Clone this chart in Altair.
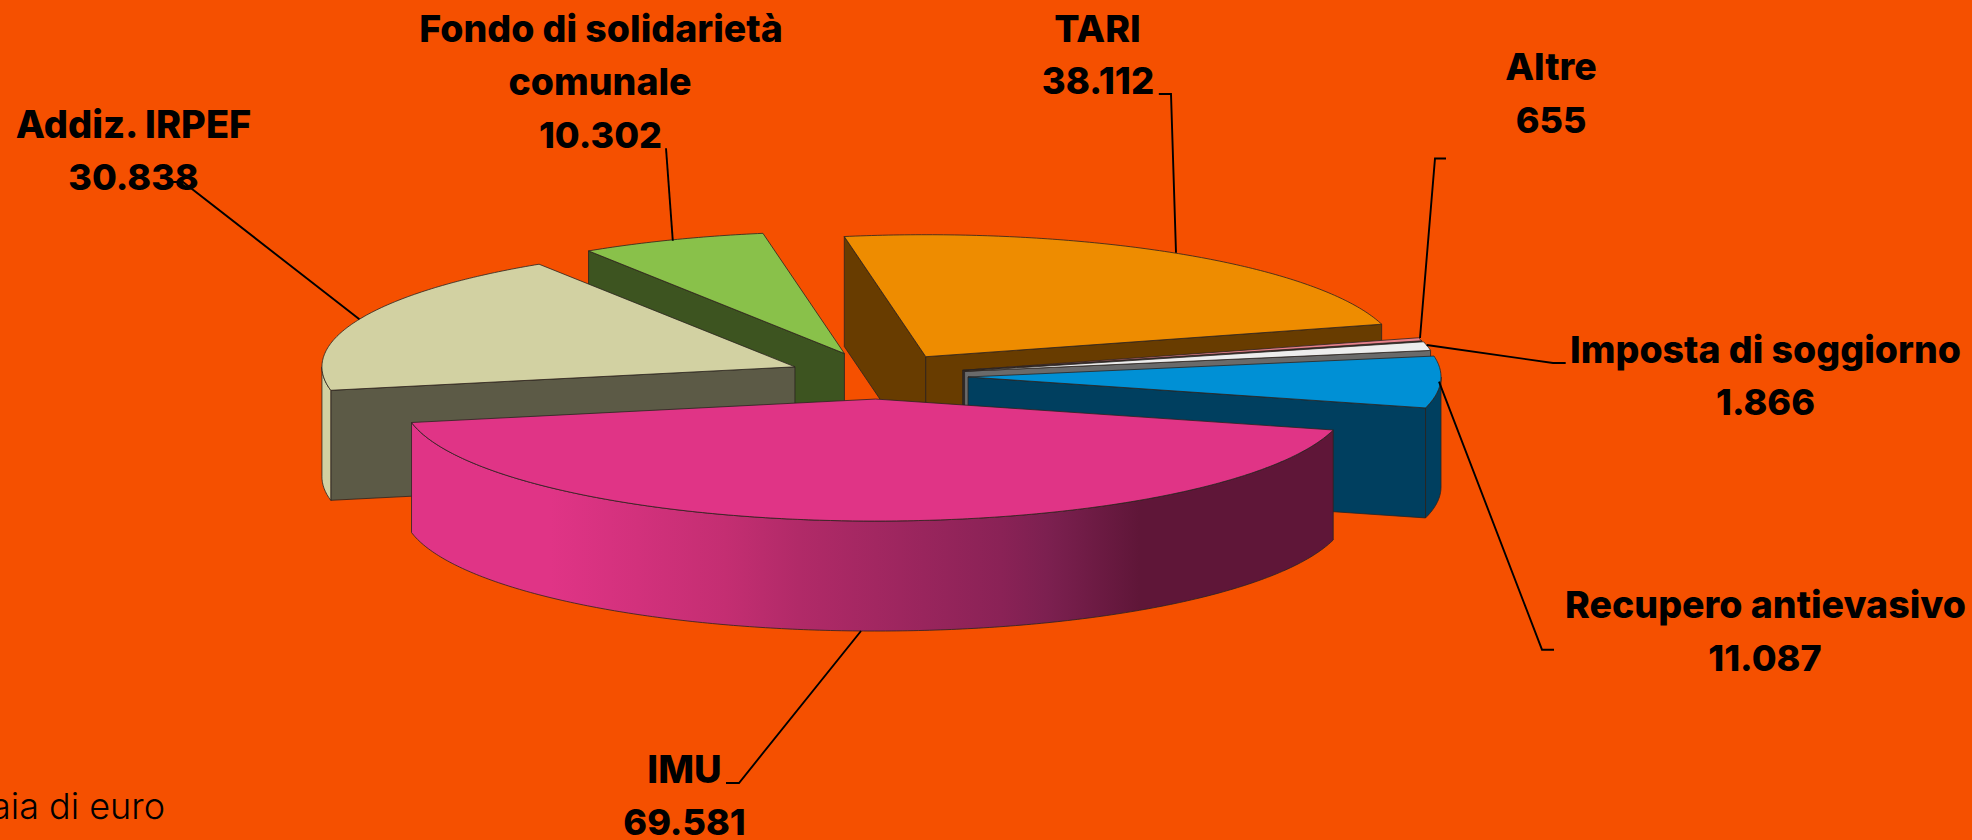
import math
import altair as alt

# ---- values (thousands of euro) ----
labels = ["IMU", "Addiz. IRPEF", "Fondo di solidarietà comunale", "TARI", "Altre", "Imposta di soggiorno", "Recupero antievasivo"]
values = [69581, 30838, 10302, 38112, 655, 1866, 11087]
value_text = ["69.581", "30.838", "10.302", "38.112", "655", "1.866", "11.087"]
pull = [0.189, 0.192, 0.198, 0.187, 0.184, 0.186, 0.1894]
top_colors = ["#E03486", "#D2D1A2", "#89C14A", "#EE8C00", "#E8818C", "#EDEDED", "#0090D5"]
side_colors = ["#E03486", "#5C5A46", "#3D5420", "#683C00", "#2E2A28", "#6A6A6A", "#003F5F"]
rim_colors = ["#E03486", "#D2D1A2", "#3D5420", "#683C00", "#2E2A28", "#6A6A6A", "#003F5F"]
draw_order = [2, 3, 1, 4, 5, 6]  # back to front, IMU (0) is last

label_lines = ["Fondo di solidarietà", "comunale", "10.302", "Addiz. IRPEF", "30.838", "TARI", "38.112",
               "Altre", "655", "Imposta di soggiorno", "1.866", "Recupero antievasivo", "11.087", "IMU", "69.581"]
label_x = [601, 600, 600.5, 133.5, 133.5, 1097.5, 1098, 1551, 1551, 1765.5, 1765.5, 1765.5, 1765, 684.5, 684.5]
label_y = [42.3, 95, 147.7, 138, 190, 41.7, 94, 80, 132.5, 362.7, 415, 617.7, 670.7, 782.7, 835]
label_size = [37.5, 37.5, 36, 38, 36, 37.5, 36.5, 37.5, 36, 37.5, 36, 37.5, 36, 38, 36]

leaders = [
    [[172, 182], [183, 182], [359.4, 319.3]],
    [[666, 148.3], [672.8, 240.7]],
    [[1158.8, 94], [1171, 94], [1176, 252.7]],
    [[1446, 158.5], [1435, 158.5], [1420, 338]],
    [[1565.7, 363], [1553, 363], [1426.7, 345]],
    [[1554, 649.7], [1542, 649.7], [1439, 381.7]],
    [[726, 783], [739, 783], [861, 631]],
]

# ---- page / pie geometry ----
W, H = 1972, 840
CX, CY = 878.5, 376
RX, RY = 473, 122
DEPTH = 110
START = 14.7  # degrees, screen-clockwise, where IMU begins
BG = "#F55000"

total = sum(values)


def pt(c, t, dy=0.0):
    a = math.radians(t)
    return [c[0] + RX * math.cos(a), c[1] + RY * math.sin(a) + dy]


def arc(c, t0, t1, dy=0.0):
    n = max(2, int(abs(t1 - t0) * 1.5))
    return [pt(c, t0 + (t1 - t0) * k / n, dy) for k in range(n + 1)]


def poly(coords, color):
    return {"type": "Feature", "properties": {"c": color},
            "geometry": {"type": "Polygon", "coordinates": [coords + [coords[0]]]}}


slices = []
t = START
for i, v in enumerate(values):
    sweep = v / total * 360
    mid = t + sweep / 2
    a = math.radians(mid)
    c = [CX + pull[i] * RX * math.cos(a), CY + pull[i] * RY * math.sin(a)]
    slices.append((i, c, t, t + sweep))
    t += sweep


def rim_range(t0, t1):
    # the part of an outer edge that faces the viewer: sin(t) > 0
    for base in (0, 360):
        a, b = max(t0, base), min(t1, base + 180)
        if a < b:
            return a, b
    return None


def faces(i):
    _, c, t0, t1 = slices[i]
    out = []
    if math.cos(math.radians(t0)) < 0:
        p = pt(c, t0)
        out.append(poly([c, p, [p[0], p[1] + DEPTH], [c[0], c[1] + DEPTH]], side_colors[i]))
    if math.cos(math.radians(t1)) > 0:
        p = pt(c, t1)
        out.append(poly([c, p, [p[0], p[1] + DEPTH], [c[0], c[1] + DEPTH]], side_colors[i]))
    r = rim_range(t0, t1)
    if r:
        upper = arc(c, r[0], r[1])
        lower = arc(c, r[1], r[0], DEPTH)
        out.append(poly(upper + lower, rim_colors[i]))
    out.append(poly([c] + arc(c, t0, t1), top_colors[i]))
    return out


back = []
for i in draw_order:
    back += faces(i)
imu_faces = faces(0)
imu_rim, imu_top = imu_faces[-2], imu_faces[-1]

proj = alt.Projection(type="identity", scale=1, translate=[0, 0])
STROKE = "#2B2320"

back_layer = alt.Chart(alt.Data(values=back)).mark_geoshape(
    stroke=STROKE, strokeWidth=0.8
).encode(fill=alt.Fill("properties.c:N", scale=None)).project(**proj.to_dict())

gradient = alt.Gradient(
    gradient="linear", x1=0, x2=1, y1=0, y2=0,
    stops=[
        alt.GradientStop(offset=0.0, color="#E03486"),
        alt.GradientStop(offset=0.15, color="#E03486"),
        alt.GradientStop(offset=0.34, color="#C42E72"),
        alt.GradientStop(offset=0.42, color="#B12A68"),
        alt.GradientStop(offset=0.64, color="#8A2256"),
        alt.GradientStop(offset=0.69, color="#7C2050"),
        alt.GradientStop(offset=0.79, color="#5F1638"),
        alt.GradientStop(offset=1.0, color="#5F1638"),
    ],
)
rim_layer = alt.Chart(alt.Data(values=[imu_rim])).mark_geoshape(
    stroke=STROKE, strokeWidth=0.8, fill=gradient
).project(**proj.to_dict())
top_layer = alt.Chart(alt.Data(values=[imu_top])).mark_geoshape(
    stroke=STROKE, strokeWidth=0.8, fill=top_colors[0]
).project(**proj.to_dict())

leader_features = [{"type": "Feature", "properties": {},
                    "geometry": {"type": "LineString", "coordinates": l}} for l in leaders]
leader_layer = alt.Chart(alt.Data(values=leader_features)).mark_geoshape(
    filled=False, stroke="#000000", strokeWidth=1.9
).project(**proj.to_dict())

text_rows = [{"t": s, "x": x, "y": y, "s": z} for s, x, y, z in zip(label_lines, label_x, label_y, label_size)]
text_layer = alt.Chart(alt.Data(values=text_rows)).mark_text(
    font="Inter", fontWeight=800, color="#000000", align="center", baseline="alphabetic"
).encode(longitude="x:Q", latitude="y:Q", text="t:N",
         size=alt.Size("s:Q", scale=None)).project(**proj.to_dict())

note_layer = alt.Chart(alt.Data(values=[{"t": "Migliaia di euro", "x": 165, "y": 819.3}])).mark_text(
    font="Inter", fontWeight=300, fontSize=36, color="#000000", align="right", baseline="alphabetic"
).encode(longitude="x:Q", latitude="y:Q", text="t:N").project(**proj.to_dict())

chart = alt.layer(back_layer, rim_layer, top_layer, leader_layer, text_layer, note_layer).properties(
    width=W, height=H, background=BG, padding=0,
    autosize=alt.AutoSizeParams(type="none"),
).configure_view(stroke=None)

chart.save("out.html", embed_options={
    "renderer": "svg", "actions": False,
    "defaultStyle": "html,body{margin:0;background:" + BG + ";overflow:hidden}",
})
